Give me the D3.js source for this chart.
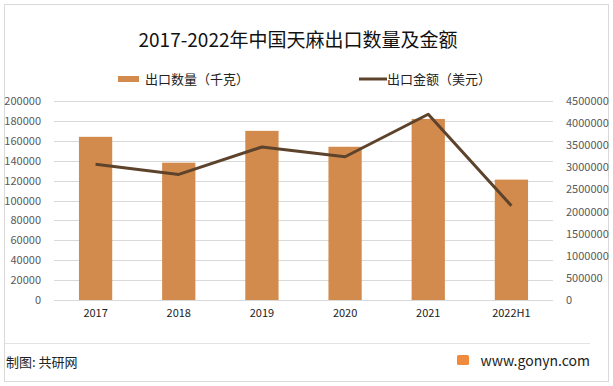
<!DOCTYPE html>
<html>
<head>
<meta charset="utf-8">
<script src="https://cdn.jsdelivr.net/npm/d3@7"></script>
<style>
  body { margin: 0; background: #fff; }
  svg text { font-family: "Noto Sans CJK SC", "Noto Sans", sans-serif; }
</style>
</head>
<body>
<script>
var years = ['2017', '2018', '2019', '2020', '2021', '2022H1']
var quantity = [164000, 138000, 170000, 154000, 182000, 121000]
var amount = [3070000, 2840000, 3460000, 3240000, 4200000, 2130000]
var leftTicks = d3.range(0, 200001, 20000)
var rightTicks = d3.range(0, 4500001, 500000)

var W = 613
var H = 386
var plot = {left: 54, right: 553, top: 101, bottom: 300}

var svg = d3.select('body').append('svg')
  .attr('width', W)
  .attr('height', H)

// outer frame
svg.append('rect')
  .attr('x', 4.5).attr('y', 4.5)
  .attr('width', 604).attr('height', 377)
  .attr('fill', '#fff')
  .attr('stroke', '#d9d9d9')

var x = d3.scaleBand()
  .domain(years)
  .range([plot.left, plot.right])
  .paddingInner(0.6)
  .paddingOuter(0.3)

var yL = d3.scaleLinear().domain([0, 200000]).range([plot.bottom, plot.top])
var yR = d3.scaleLinear().domain([0, 4500000]).range([plot.bottom, plot.top])

// gridlines
svg.append('g')
  .selectAll('line')
  .data(leftTicks)
  .enter().append('line')
  .attr('x1', plot.left).attr('x2', plot.right)
  .attr('y1', function (d) { return Math.round(yL(d)) + 0.5 })
  .attr('y2', function (d) { return Math.round(yL(d)) + 0.5 })
  .attr('stroke', '#d9d9d9')

// left axis
var axL = svg.append('g')
  .attr('transform', 'translate(' + (plot.left - 10) + ',0)')
  .call(d3.axisLeft(yL).tickValues(leftTicks).tickSize(0).tickFormat(d3.format('d')))
axL.select('.domain').remove()
axL.selectAll('text').attr('fill', '#595959').style('font-size', '11px')

// right axis
var axR = svg.append('g')
  .attr('transform', 'translate(' + (plot.right + 10) + ',0)')
  .call(d3.axisRight(yR).tickValues(rightTicks).tickSize(0).tickFormat(d3.format('d')))
axR.select('.domain').remove()
axR.selectAll('text').attr('fill', '#595959').style('font-size', '11px')

// bars
svg.append('g')
  .selectAll('rect')
  .data(quantity)
  .enter().append('rect')
  .attr('x', function (d, i) { return x(years[i]) })
  .attr('width', x.bandwidth())
  .attr('y', function (d) { return yL(d) })
  .attr('height', function (d) { return yL(0) - yL(d) })
  .attr('fill', '#d38b4d')

// line
var line = d3.line()
  .x(function (d, i) { return x(years[i]) + x.bandwidth() / 2 })
  .y(function (d) { return yR(d) })

svg.append('path')
  .datum(amount)
  .attr('d', line)
  .attr('fill', 'none')
  .attr('stroke', '#5e432c')
  .attr('stroke-width', 3)
  .attr('stroke-linejoin', 'round')

// x axis labels
var axX = svg.append('g')
  .attr('transform', 'translate(0,' + (plot.bottom + 6) + ')')
  .call(d3.axisBottom(x).tickSize(0))
axX.select('.domain').remove()
axX.selectAll('text').attr('fill', '#222').style('font-size', '11px')

// title
svg.append('text')
  .attr('x', 298)
  .attr('y', 47)
  .attr('text-anchor', 'middle')
  .attr('fill', '#111')
  .style('font-size', '19px')
  .text('2017-2022年中国天麻出口数量及金额')

// legend
svg.append('rect')
  .attr('x', 118).attr('y', 76)
  .attr('width', 21).attr('height', 6)
  .attr('fill', '#d38b4d')
svg.append('text')
  .attr('x', 145).attr('y', 84)
  .attr('fill', '#222')
  .style('font-size', '13px')
  .text('出口数量（千克）')

svg.append('line')
  .attr('x1', 359).attr('x2', 387)
  .attr('y1', 79).attr('y2', 79)
  .attr('stroke', '#5e432c')
  .attr('stroke-width', 3)
svg.append('text')
  .attr('x', 387).attr('y', 84)
  .attr('fill', '#222')
  .style('font-size', '13px')
  .text('出口金额（美元）')

// footer
svg.append('line')
  .attr('x1', 5).attr('x2', 590)
  .attr('y1', 343.5).attr('y2', 343.5)
  .attr('stroke', '#e3e3e3')

svg.append('text')
  .attr('x', 6).attr('y', 367)
  .attr('fill', '#222')
  .style('font-size', '13px')
  .text('制图: 共研网')

svg.append('rect')
  .attr('x', 457).attr('y', 355)
  .attr('width', 12).attr('height', 10)
  .attr('rx', 1.5)
  .attr('fill', '#f08a3c')
svg.append('text')
  .attr('x', 590).attr('y', 366)
  .attr('text-anchor', 'end')
  .attr('fill', '#222')
  .style('font-size', '14px')
  .text('www.gonyn.com')
</script>
</body>
</html>
